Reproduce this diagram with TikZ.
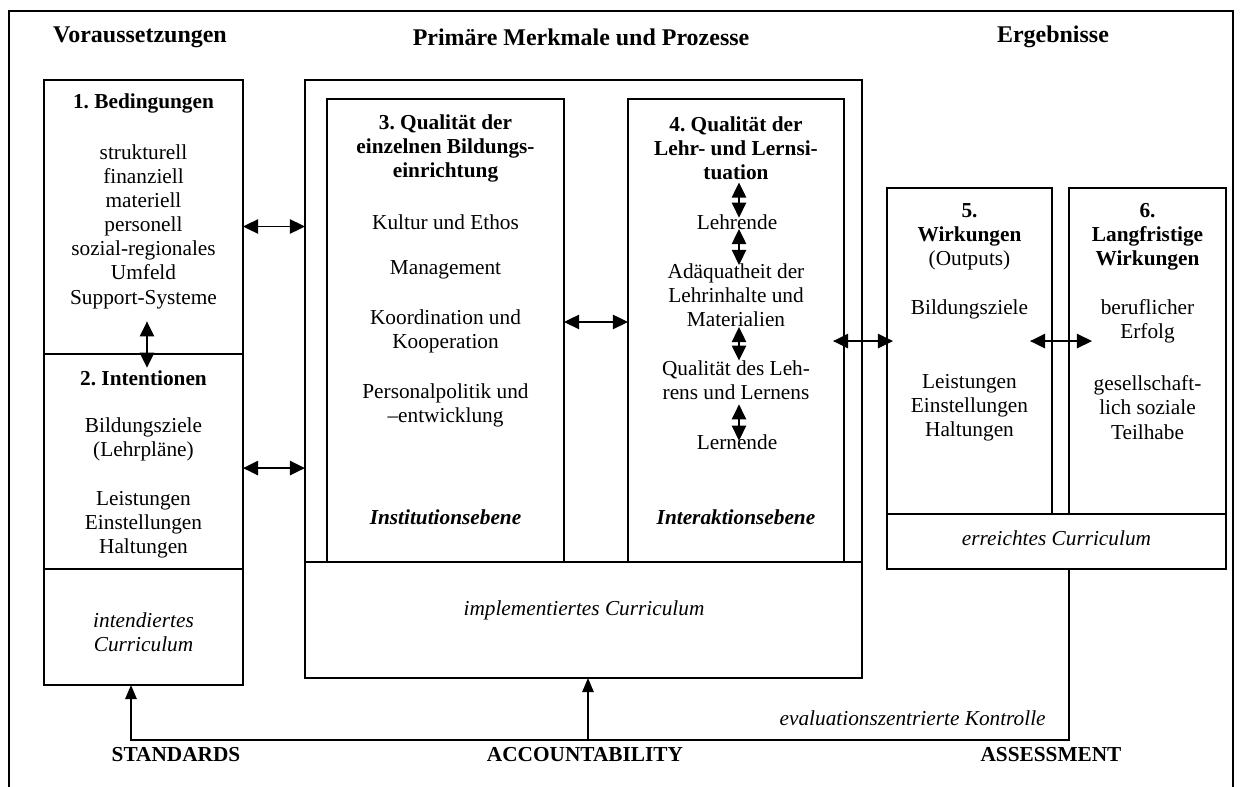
\documentclass[tikz,border=0pt]{standalone}
\usepackage{fontspec}
\setmainfont{Liberation Serif}
\usetikzlibrary{arrows.meta,fit,calc}
\frenchspacing
\begin{document}
\begin{tikzpicture}[x=0.5634pt,y=-0.5634pt,
  box/.style={draw, line width=1.1pt, inner sep=0pt, outer sep=0pt},
  txt/.style={align=center, inner sep=0pt, font=\fontsize{12}{13.6}\selectfont},
  bftxt/.style={txt, font=\fontsize{12}{13.6}\selectfont\bfseries},
  headtxt/.style={txt, font=\fontsize{13.5}{15}\selectfont\bfseries},
  ittxt/.style={txt, font=\fontsize{12}{13.6}\selectfont\itshape},
  bitxt/.style={txt, font=\fontsize{12}{13.6}\selectfont\bfseries\itshape},
  dbl/.style={{Triangle[length=8.5pt,width=8pt]}-{Triangle[length=8.5pt,width=8pt]}, line width=1.1pt},
  conn/.style={line width=0.9pt, -{Triangle[length=8pt,width=6.5pt]}},
]
\useasboundingbox (0,0) rectangle (1242,787);
% outer frame (open at the bottom)
\draw[line width=1.1pt] (9,787) -- (9,11) -- (1233,11) -- (1233,787);

% headings
\node[headtxt] (h1) at (140,37) {Voraussetzungen};
\node[headtxt] (h2) at (581,37) {Primäre Merkmale und Prozesse};
\node[headtxt] (h3) at (1053,37) {Ergebnisse};

% left column
\node[box, fit={(44,80) (243,354)}] (b1) {};
\node[box, fit={(44,354) (243,569)}] (b2) {};
\node[box, fit={(44,569) (243,685)}] (b2c) {};
\node[bftxt] (t1) at (143.5,103) {1. Bedingungen};
\node[txt] (items1) at (143.5,226.5) {strukturell\\finanziell\\materiell\\personell\\sozial-regionales\\Umfeld\\Support-Systeme};
\node[bftxt] (t2) at (143.5,378) {2. Intentionen};
\node[txt] (bz) at (143.5,439.5) {Bildungsziele\\(Lehrpläne)};
\node[txt] (lei) at (143.5,524.5) {Leistungen\\Einstellungen\\Haltungen};
\node[ittxt] (intc) at (143.5,632) {intendiertes\\Curriculum};

% middle column
\node[box, fit={(305,80) (862,678)}] (mid) {};
\node[box, fit={(305,562) (862,678)}] (midc) {};
\node[box, fit={(327,99) (564,562)}] (b3) {};
\node[box, fit={(628,99) (844,562)}] (b4) {};
\node[bftxt] (t3) at (445.5,148.5) {3. Qualität der\\einzelnen Bildungs-\\einrichtung};
\node[txt] (kul) at (445.5,222) {Kultur und Ethos};
\node[txt] (man) at (445.5,270) {Management};
\node[txt] (koo) at (445.5,331) {Koordination und\\Kooperation};
\node[txt] (per) at (445.5,405) {Personalpolitik und\\–entwicklung};
\node[bitxt] (inst) at (445.5,517) {Institutionsebene};
\node[bftxt] (t4) at (736,148.5) {4. Qualität der\\Lehr- und Lernsi-\\tuation};
\node[txt] (lehr) at (737,222) {Lehrende};
\node[txt] (adq) at (736,295) {Adäquatheit der\\Lehrinhalte und\\Materialien};
\node[txt] (qual) at (736,380.5) {Qualität des Leh-\\rens und Lernens};
\node[txt] (lern) at (737,442) {Lernende};
\node[bitxt] (inter) at (736,517) {Interaktionsebene};
\node[ittxt] (impc) at (584,610) {implementiertes Curriculum};

% right column
\node[box, fit={(887,188) (1052,514)}] (b5) {};
\node[box, fit={(1069,188) (1226,514)}] (b6) {};
\node[box, fit={(887,514) (1226,569)}] (b56c) {};
\node[txt] (t5) at (969.5,237) {\textbf{5.}\\\textbf{Wirkungen}\\(Outputs)};
\node[txt] (bz5) at (969.5,309) {Bildungsziele};
\node[txt] (lei5) at (969.5,407.5) {Leistungen\\Einstellungen\\Haltungen};
\node[bftxt] (t6) at (1147.5,237) {6.\\Langfristige\\Wirkungen};
\node[txt] (ber) at (1147.5,321.5) {beruflicher\\Erfolg};
\node[txt] (ges) at (1147.5,407.5) {gesellschaft-\\lich soziale\\Teilhabe};
\node[ittxt] (errc) at (1056.5,538) {erreichtes Curriculum};

% bottom labels
\node[ittxt, anchor=east] (evk) at (1046,718) {evaluationszentrierte Kontrolle};
\node[bftxt] (std) at (176,755) {STANDARDS};
\node[bftxt] (acc) at (585,755) {ACCOUNTABILITY};
\node[bftxt] (ass) at (1051,755) {ASSESSMENT};

% horizontal double arrows
\draw[dbl] (b1.east |- items1) -- (mid.west |- items1);
\coordinate (y2) at ([yshift=-3.7pt]b2.east);
\draw[dbl] (y2) -- (mid.west |- y2);
\coordinate (y34) at ([yshift=4.8pt]b3.east);
\draw[dbl] (y34) -- (b4.west |- y34);
\coordinate (y5) at ([yshift=5.6pt]b5.west);
\draw[dbl, shorten <=-6.2pt, shorten >=-3.4pt] (b4.east |- y5) -- (y5);
\draw[dbl, shorten <=-12.4pt, shorten >=-13pt] (b5.east |- y5) -- (b6.west |- y5);

% vertical double arrows
\coordinate (ax1) at (147,300);
\draw[dbl, shorten <=7pt, shorten >=1.3pt] (items1.south -| ax1) -- (t2.north -| ax1);
\coordinate (ax4) at (739,300);
\draw[dbl, shorten <=1.1pt, shorten >=-2pt] (t4.south -| ax4) -- (lehr.north -| ax4);
\draw[dbl, shorten <=-0.5pt, shorten >=-1.1pt] (lehr.south -| ax4) -- (adq.north -| ax4);
\draw[dbl] (adq.south -| ax4) -- (qual.north -| ax4);
\draw[dbl, shorten <=2.2pt, shorten >=-3.7pt] (qual.south -| ax4) -- (lern.north -| ax4);

% bottom feedback connectors
\coordinate (cr) at (1069,740);
\coordinate (cl) at (131,740);
\coordinate (ca) at (588,740);
\draw[conn] (b56c.south -| cr) -- (cr) -- (cl) -- (b2c.south -| cl);
\draw[conn] (ca) -- (midc.south -| ca);
\end{tikzpicture}
\end{document}
